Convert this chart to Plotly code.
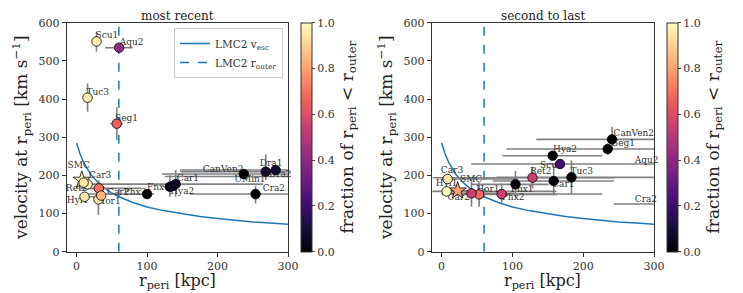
import plotly.graph_objects as go

# ---------------- data: escape-velocity curve and r_outer ----------------
r_esc = [0, 5, 10, 20, 30, 40, 50, 60, 80, 100, 125, 150, 175, 200, 225, 250, 275, 300]
v_esc = [285, 256, 234, 203, 182, 166, 154, 144, 129, 117, 107, 99, 92, 87, 82, 78, 75, 72]
r_outer = 60

# ---------------- data: most recent pericenter ----------------
names_recent = ["Scu1", "Aqu2", "Tuc3", "Seg1", "SMC", "Car3", "Ret2", "Hyi1", "Car2", "Hor1", "Tuc2",
                "Phx2", "Fnx1", "Hya2", "Car1", "CanVen2", "Dra1", "Dra2", "UMin1", "Cra2"]
r_recent = [28.3, 60.4, 15.6, 57.1, 7.5, 15.6, 10, 11.3, 31.6, 31, 35,
            100, 132.5, 136, 140.6, 237.3, 268.4, 282.5, 315, 254]
v_recent = [551, 534.5, 403.5, 335.4, 187.8, 176.4, 181, 144, 166, 137, 147,
            151, 170, 172, 177, 203.5, 209.6, 214, 197, 151]
r_lo_recent = [3, 20, 3, 9.5, 1, 5, 4, 6, 27, 4, 5, 92, 10, 10, 124, 116, 121, 136, 190, 93]
r_hi_recent = [3, 19, 3, 8.5, 1, 5, 4, 30, 60, 4, 5, 10, 10, 10, 124, 100, 60, 50, 50, 100]
v_lo_recent = [27, 5, 37, 43, 3, 10, 8, 6, 20, 40, 20, 8, 26, 10, 33, 8, 22, 8, 5, 25]
v_hi_recent = [25, 5, 37, 43, 3, 10, 8, 6, 20, 50, 20, 8, 30, 10, 37, 8, 46, 8, 5, 22]
frac_recent = [0.97, 0.42, 0.97, 0.66, 0.98, 0.97, 0.95, 0.95, 0.70, 0.96, 0.85,
               0.0, 0.02, 0.05, 0.06, 0.0, 0.08, 0.08, 0.05, 0.0]
star_recent = ["SMC"]

# ---------------- data: second to last pericenter ----------------
names_prev = ["CanVen2", "Seg1", "Hya2", "Aqu2", "Scu1", "Ret2", "Car1", "Tuc3", "Fnx1", "Phx2",
              "Hor1", "Car2", "SMC", "Car3", "Hyi1", "Cra2"]
r_prev = [240.7, 234.6, 156.9, 330, 167.3, 128.4, 158.3, 183.4, 104.3, 84.8,
          53, 42.2, 22.7, 8.5, 7.1, 330]
v_prev = [294.3, 269, 251.5, 229.7, 229.7, 193.9, 185.2, 194.8, 176.4, 151,
          150, 152.8, 159.8, 190.4, 158, 125]
r_lo_prev = [107, 143, 71, 288, 5, 141, 86, 106, 63, 85, 52, 41, 20, 8, 20, 87]
r_hi_prev = [100, 100, 70, 50, 5, 115, 85, 117, 47, 142, 110, 60, 20, 99, 155, 50]
v_lo_prev = [28, 15, 10, 0, 10, 28, 37, 45, 35, 28, 32, 35, 3, 10, 8, 0]
v_hi_prev = [33, 15, 10, 0, 10, 28, 46, 45, 35, 28, 32, 35, 3, 10, 8, 0]
frac_prev = [0.0, 0.0, 0.0, 0.2, 0.22, 0.55, 0.0, 0.0, 0.02, 0.55,
             0.68, 0.55, 0.8, 0.95, 1.0, 0.0]
star_prev = ["SMC"]

# ---------------- label placement (data coords) ----------------
labels_recent = {"Scu1": (43, 565), "Aqu2": (78, 548), "Tuc3": (30, 417), "Seg1": (71, 349),
                 "SMC": (3, 225), "Car3": (33.5, 199), "Ret2": (0, 166), "Hyi1": (1.5, 133),
                 "Car2": (59, 155), "Hor1": (46, 132), "Phx2": (83, 154), "Fnx1": (116, 168),
                 "Car1": (158, 192), "Hya2": (150, 157), "CanVen2": (208, 214), "Dra1": (276, 231),
                 "Dra2": (289, 201), "UMin1": (246, 188), "Cra2": (280, 164)}
labels_prev = {"CanVen2": (271.5, 308), "Seg1": (257, 282), "Hya2": (174.4, 266.4),
               "Aqu2": (289.5, 238.4), "Scu1": (155, 226), "Ret2": (140, 209.6),
               "Tuc3": (198, 210), "Car1": (172, 174.7), "Fnx1": (113.7, 162.5),
               "Phx2": (101, 141.5), "Hor1": (65.4, 163.3), "Car3": (14.7, 211),
               "Hyi1": (7.1, 177.3), "SMC": (41.7, 187.8), "Car2": (24.2, 141.5),
               "Cra2": (288.6, 135.4)}

SERIF = "DejaVu Serif"
BLUE = "#1f77b4"
W, H = 743, 293
OFF = 8  # page body margin compensation (px)

fig = go.Figure()


def add_panel(xa, ya, cax, names, r, v, rlo, rhi, vlo, vhi, frac, stars, labels, legend):
    fig.add_trace(go.Scatter(x=r_esc, y=v_esc, mode="lines", xaxis=xa, yaxis=ya,
                             line=dict(color=BLUE, width=1.5),
                             name="LMC2 v<sub>esc</sub>", showlegend=legend, hoverinfo="skip"))
    fig.add_trace(go.Scatter(x=[r_outer, r_outer], y=[0, 600], mode="lines", xaxis=xa, yaxis=ya,
                             line=dict(color=BLUE, width=1.5, dash="dash"),
                             name="LMC2 r<sub>outer</sub>", showlegend=legend, hoverinfo="skip"))
    fig.add_trace(go.Scatter(x=r, y=v, mode="markers", xaxis=xa, yaxis=ya,
                             marker=dict(size=1, opacity=0), showlegend=False, hoverinfo="skip",
                             error_x=dict(type="data", symmetric=False, array=rhi, arrayminus=rlo,
                                          color="#808080", thickness=1.6, width=0),
                             error_y=dict(type="data", symmetric=False, array=vhi, arrayminus=vlo,
                                          color="#808080", thickness=1.6, width=0)))
    lx = [labels[n][0] for n in names if n in labels]
    ly = [labels[n][1] for n in names if n in labels]
    lt = [n for n in names if n in labels]
    fig.add_trace(go.Scatter(x=lx, y=ly, text=lt, mode="text", xaxis=xa, yaxis=ya,
                             textfont=dict(family=SERIF, size=9, color="#333333"),
                             cliponaxis=False, showlegend=False, hoverinfo="skip"))
    symbols = ["star" if n in stars else "circle" for n in names]
    sizes = [13 if n in stars else 9.5 for n in names]
    fig.add_trace(go.Scatter(x=r, y=v, mode="markers", xaxis=xa, yaxis=ya,
                             marker=dict(color=frac, coloraxis=cax, symbol=symbols, size=sizes,
                                         opacity=1, line=dict(color="black", width=0.8)),
                             showlegend=False, text=names))


add_panel("x", "y", "coloraxis", names_recent, r_recent, v_recent, r_lo_recent, r_hi_recent,
          v_lo_recent, v_hi_recent, frac_recent, star_recent, labels_recent, True)
add_panel("x2", "y2", "coloraxis2", names_prev, r_prev, v_prev, r_lo_prev, r_hi_prev,
          v_lo_prev, v_hi_prev, frac_prev, star_prev, labels_prev, False)


def px_x(p):  # page x pixel -> paper fraction
    return (p - OFF) / W


def px_y(p):  # page y pixel (from top) -> paper fraction
    return (H - (p - OFF)) / H


ydom = [px_y(251.7), px_y(22.7)]
xdom1 = [px_x(66.7), px_x(288.0)]
xdom2 = [px_x(431.7), px_x(654.0)]

tickfont = dict(family=SERIF, size=11, color="#333333")
titlefont = dict(family=SERIF, size=17, color="#222222")
xtitlefont = dict(family=SERIF, size=16, color="#222222")


def xaxis(dom, anchor):
    return dict(domain=dom, anchor=anchor, range=[-14, 300], tickvals=[0, 100, 200, 300],
                ticks="outside", ticklen=4, tickcolor="#333", showline=True, mirror=True,
                linecolor="#333", linewidth=1, showgrid=False, zeroline=False, tickfont=tickfont,
                automargin=False)


def yaxis(anchor):
    return dict(domain=ydom, anchor=anchor, range=[0, 600], tickvals=[0, 100, 200, 300, 400, 500, 600],
                ticks="outside", ticklen=4, tickcolor="#333", showline=True, mirror=True,
                linecolor="#333", linewidth=1, showgrid=False, zeroline=False, tickfont=tickfont,
                automargin=False,
                title=dict(text="velocity at r<sub>peri</sub> [km s<sup>\u22121</sup>]",
                           font=titlefont, standoff=6))


def cbar(x):
    return dict(x=x, xanchor="left", xpad=0, ypad=0, y=ydom[0], yanchor="bottom",
                len=ydom[1] - ydom[0], lenmode="fraction", thickness=11, thicknessmode="pixels",
                outlinecolor="#333", outlinewidth=1, ticks="outside", ticklen=3,
                tickvals=[0, 0.2, 0.4, 0.6, 0.8, 1.0],
                ticktext=["0.0", "0.2", "0.4", "0.6", "0.8", "1.0"], tickfont=tickfont,
                title=dict(text="fraction of r<sub>peri</sub> < r<sub>outer</sub>",
                           side="right", font=titlefont))


annotations = []
for dom, title in [(xdom1, "most recent"), (xdom2, "second to last")]:
    annotations.append(dict(text=title, x=(dom[0] + dom[1]) / 2, y=1.0, xref="paper",
                            yref="paper", xanchor="center", yanchor="top", showarrow=False,
                            borderpad=0, font=dict(family=SERIF, size=12, color="#222222")))
    annotations.append(dict(text="r<sub>peri</sub> [kpc]", x=(dom[0] + dom[1]) / 2, y=px_y(293),
                            xref="paper", yref="paper", xanchor="center", yanchor="bottom",
                            showarrow=False, borderpad=0, font=xtitlefont))

fig.update_layout(
    width=W, height=H, margin=dict(l=0, r=0, t=0, b=0, autoexpand=False),
    paper_bgcolor="white", plot_bgcolor="white",
    xaxis=xaxis(xdom1, "y"), yaxis=yaxis("x"),
    xaxis2=xaxis(xdom2, "y2"), yaxis2=yaxis("x2"),
    coloraxis=dict(colorscale="Magma", cmin=0, cmax=1, colorbar=cbar(px_x(301))),
    coloraxis2=dict(colorscale="Magma", cmin=0, cmax=1, colorbar=cbar(px_x(667))),
    legend=dict(x=px_x(283), xanchor="right", y=px_y(28), yanchor="top",
                bordercolor="#cccccc", borderwidth=1, bgcolor="white",
                font=dict(family=SERIF, size=10.5, color="#333333"), itemwidth=30),
    annotations=annotations,
)

fig.write_html("out.html")
